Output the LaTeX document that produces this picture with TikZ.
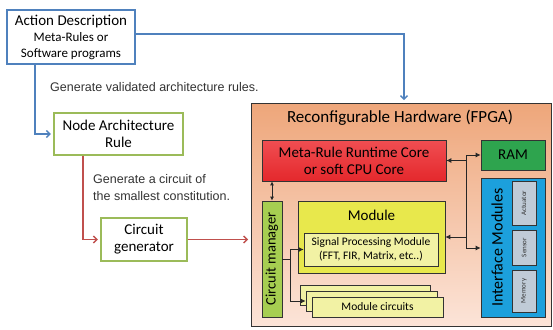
\documentclass[tikz,border=0pt]{standalone}
\usepackage{fontspec}
\setmainfont{Carlito}
\newfontfamily\arialf{Liberation Sans}
\usetikzlibrary{arrows.meta,calc}
\definecolor{cblue}{RGB}{79,129,189}
\definecolor{cgreenb}{RGB}{155,187,89}
\definecolor{cred}{RGB}{192,80,77}
\definecolor{fpgatop}{RGB}{238,166,122}
\definecolor{fpgabot}{RGB}{252,228,216}
\definecolor{mrtop}{RGB}{240,78,82}
\definecolor{mrbot}{RGB}{228,40,44}
\definecolor{ramg}{RGB}{46,164,78}
\definecolor{ifb}{RGB}{28,160,220}
\definecolor{grayb}{RGB}{192,203,215}
\definecolor{cmg}{RGB}{166,206,81}
\definecolor{mody}{RGB}{232,232,76}
\definecolor{lighty}{RGB}{242,242,164}
\begin{document}
\begin{tikzpicture}[x=1pt,y=-1pt,
  outbox/.style={draw=#1, line width=1.2pt, fill=white, inner sep=0pt, align=center, font=\fontsize{15}{17}\selectfont},
  inbox/.style={draw=black!80, line width=0.7pt, inner sep=0pt, align=center},
  bline/.style={draw=cblue, line width=1.4pt},
  rline/.style={draw=cred, line width=1.4pt},
  barb/.style={-{Straight Barb[length=3.5pt,width=7pt,line width=1.4pt]}, shorten >=2.5pt},
  kline/.style={draw=black!85, line width=0.8pt},
  ktip/.style={-{Latex[length=5pt,width=5pt]}},
  note/.style={text=black!80, font=\arialf\fontsize{12.5}{17}\selectfont, inner sep=0pt, align=left, anchor=west}
]
\useasboundingbox (0,0) rectangle (553,329);

% left column boxes
\node[outbox=cblue, minimum width=128pt, minimum height=54pt] (Action) at (71,37)
  {Action Description\\[-1pt]{\fontsize{13}{15}\selectfont Meta-Rules or}\\[-1pt]{\fontsize{13}{15}\selectfont Software programs}};
\node[outbox=cgreenb, minimum width=129pt, minimum height=42pt] (NodeArch) at (118.5,134)
  {Node Architecture\\Rule};
\node[outbox=cgreenb, minimum width=86pt, minimum height=43pt] (CircGen) at (144,239.5)
  {Circuit\\generator};

\node[note] (n1) at (50,87) {Generate validated architecture rules.};
\node[note] (n2) at (93,187.5) {Generate a circuit of\\the smallest constitution.};

% FPGA
\node[draw=black!80, line width=0.8pt, top color=fpgatop, bottom color=fpgabot, minimum width=300pt, minimum height=223pt, inner sep=0pt] (FPGA) at (401,214.5) {};
\node[inner sep=0pt, font=\fontsize{17}{19}\selectfont] (title) at (400,118) {Reconfigurable Hardware (FPGA)};

\node[inbox, top color=mrtop, bottom color=mrbot, minimum width=184pt, minimum height=41pt, font=\fontsize{15}{17}\selectfont] (MetaRule) at (354,160.5)
  {Meta-Rule Runtime Core\\or soft CPU Core};
\node[inbox, fill=ramg, minimum width=64pt, minimum height=30pt, font=\fontsize{15}{17}\selectfont] (RAM) at (513,155) {RAM};
\node[inbox, fill=ifb, minimum width=64pt, minimum height=139pt] (Interface) at (513,247.5) {};
\node[rotate=90, inner sep=0pt, font=\fontsize{16}{18}\selectfont] (iftext) at (497,247.5) {Interface Modules};
\node[inbox, fill=grayb, minimum width=24pt, minimum height=44pt] (Actuator) at (524,203) {};
\node[rotate=90, inner sep=0pt, font=\fontsize{7}{8}\selectfont, text=black!80] at (Actuator) {Actuator};
\node[inbox, fill=grayb, minimum width=24pt, minimum height=35pt] (Sensor) at (524,247.5) {};
\node[rotate=90, inner sep=0pt, font=\fontsize{7}{8}\selectfont, text=black!80] at (Sensor) {Sensor};
\node[inbox, fill=grayb, minimum width=24pt, minimum height=42pt] (Memory) at (524,291) {};
\node[rotate=90, inner sep=0pt, font=\fontsize{7}{8}\selectfont, text=black!80] at (Memory) {Memory};

\node[inbox, fill=cmg, minimum width=20pt, minimum height=116pt] (CircMgr) at (272,259) {};
\node[rotate=90, inner sep=0pt, font=\fontsize{14.5}{17}\selectfont] at (CircMgr) {Circuit manager};

\node[inbox, fill=mody, minimum width=147pt, minimum height=72pt] (Module) at (371.5,237) {};
\node[inner sep=0pt, font=\fontsize{15}{17}\selectfont] (modtext) at (371.5,215) {Module};
\node[inbox, fill=lighty, minimum width=134pt, minimum height=33pt, font=\fontsize{11.5}{14}\selectfont] (SPM) at (371,249.5)
  {Signal Processing Module\\(FFT, FIR, Matrix, etc..)};

\node[inbox, fill=lighty, minimum width=130pt, minimum height=20pt] (MC1) at (365,295) {};
\node[inbox, fill=lighty, minimum width=131pt, minimum height=20pt] (MC2) at (371.5,301) {};
\node[inbox, fill=lighty, minimum width=131pt, minimum height=20pt, font=\fontsize{11.5}{14}\selectfont] (MC3) at (377.5,307) {Module circuits};

% left connectors
\draw[bline, barb] ([yshift=3pt]Action.east) -| (FPGA.north -| 404,0);
\draw[bline, barb] (Action.south -| 35,0) |- (NodeArch.west);
\draw[rline, barb] (NodeArch.south -| 83,0) |- (CircGen.west);
\draw[rline, barb] (CircGen.east) -- (CircGen.east -| FPGA.west);

% internal connectors
\draw[kline, {Latex[length=4pt,width=4pt]}-{Latex[length=4pt,width=4pt]}] (MetaRule.south -| CircMgr.north) -- (CircMgr.north);
\coordinate (cmb) at (290,259);
\draw[kline] (CircMgr.east) -- (cmb);
\draw[kline, ktip] (cmb) |- (SPM.west);
\draw[kline, ktip] (cmb) |- (MC2.west);

\coordinate (bt) at (466,155);
\coordinate (bb) at (466,248);
\draw[kline] (bt) -- (bb);
\draw[kline, ktip] (bt) -- (RAM.west);
\draw[kline, ktip] (MetaRule.east -| bt) -- (MetaRule.east);
\draw[kline, ktip] (Module.east -| bt) -- (Module.east);
\draw[kline, ktip] (bb) -- (Interface.west |- bb);
\end{tikzpicture}
\end{document}
